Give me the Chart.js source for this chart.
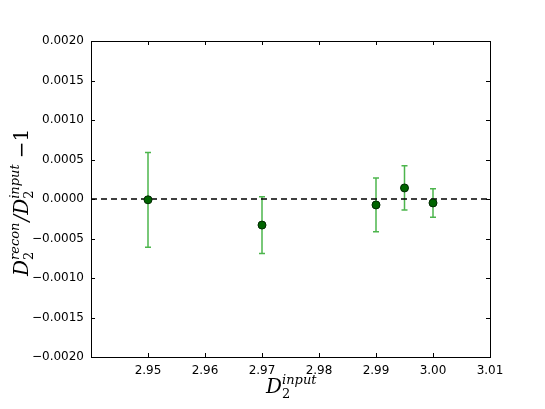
<!DOCTYPE html>
<html>
<head>
<meta charset="utf-8">
<script src="https://cdn.jsdelivr.net/npm/chart.js@4"></script>
<style>
  html, body { margin: 0; padding: 0; background: #fff; }
  #wrap { width: 545px; height: 409px; }
</style>
</head>
<body>
<div id="wrap"><canvas id="chart" width="545" height="409"></canvas></div>
<script>
// values
const xInput = [2.95, 2.97, 2.99, 2.995, 3.00];
const ratioMinusOne = [-0.00001, -0.00033, -0.000075, 0.00014, -0.00005];
const errors = [0.0006, 0.00036, 0.00034, 0.00028, 0.00018];
const xRange = [2.94, 3.01];
const yRange = [-0.002, 0.002];

const tickFont = { family: 'DejaVu Sans', size: 12 };
const fmtY = v => (v < 0 ? '\u2212' : '') + Math.abs(v).toFixed(4);

// error bars + inside tick marks + math axis labels
const extras = {
    id: 'extras',
    beforeDatasetsDraw(chart) {
        const ctx = chart.ctx;
        const xs = chart.scales.x, ys = chart.scales.y;
        ctx.save();
        ctx.strokeStyle = 'rgba(0,150,0,0.7)';
        ctx.lineWidth = 1.5;
        xInput.forEach((x, i) => {
            const px = xs.getPixelForValue(x);
            const top = ys.getPixelForValue(ratioMinusOne[i] + errors[i]);
            const bot = ys.getPixelForValue(ratioMinusOne[i] - errors[i]);
            ctx.beginPath();
            ctx.moveTo(px, top); ctx.lineTo(px, bot);
            ctx.moveTo(px - 3, top); ctx.lineTo(px + 3, top);
            ctx.moveTo(px - 3, bot); ctx.lineTo(px + 3, bot);
            ctx.stroke();
        });
        ctx.restore();
    },
    afterDraw(chart) {
        const ctx = chart.ctx;
        const a = chart.chartArea;
        const xs = chart.scales.x, ys = chart.scales.y;
        ctx.save();
        ctx.strokeStyle = '#000';
        ctx.lineWidth = 1;
        ctx.beginPath();
        xs.ticks.forEach(t => {
            const p = Math.round(xs.getPixelForValue(t.value)) + 0.5;
            ctx.moveTo(p, a.bottom); ctx.lineTo(p, a.bottom - 4);
            ctx.moveTo(p, a.top); ctx.lineTo(p, a.top + 4);
        });
        ys.ticks.forEach(t => {
            const p = Math.round(ys.getPixelForValue(t.value)) + 0.5;
            ctx.moveTo(a.left, p); ctx.lineTo(a.left + 4, p);
            ctx.moveTo(a.right, p); ctx.lineTo(a.right - 4, p);
        });
        ctx.stroke();
        ctx.strokeRect(a.left + 0.5, a.top + 0.5, a.right - a.left, a.bottom - a.top);

        // x axis label
        ctx.fillStyle = '#000';
        ctx.textBaseline = 'alphabetic';
        ctx.font = 'italic 20px "DejaVu Serif"';
        ctx.fillText('D', 266, 393);
        let w = ctx.measureText('D').width;
        ctx.font = '13px "DejaVu Serif"';
        ctx.fillText('2', 266 + w, 398);
        ctx.font = 'italic 13px "DejaVu Serif"';
        ctx.fillText('input', 266 + w, 384);

        // y axis label, rotated
        ctx.translate(28, 200);
        ctx.rotate(-Math.PI / 2);
        let x0 = -76;
        ctx.font = 'italic 20px "DejaVu Serif"';
        ctx.fillText('D', x0, 0);
        w = ctx.measureText('D').width;
        ctx.font = '13px "DejaVu Serif"';
        ctx.fillText('2', x0 + w, 5);
        ctx.font = 'italic 13px "DejaVu Serif"';
        ctx.fillText('recon', x0 + w, -9);
        x0 += w + ctx.measureText('recon').width + 1;
        ctx.font = 'italic 20px "DejaVu Serif"';
        ctx.fillText('/D', x0, 0);
        w = ctx.measureText('/D').width;
        ctx.font = '13px "DejaVu Serif"';
        ctx.fillText('2', x0 + w, 5);
        ctx.font = 'italic 13px "DejaVu Serif"';
        ctx.fillText('input', x0 + w, -9);
        x0 += w + ctx.measureText('input').width + 6;
        ctx.font = '20px "DejaVu Serif"';
        ctx.fillText('\u22121', x0, 0);
        ctx.restore();
    }
};

new Chart(document.getElementById('chart'), {
    type: 'scatter',
    data: {
        datasets: [
            {
                data: xInput.map((x, i) => ({ x: x, y: ratioMinusOne[i] })),
                backgroundColor: '#006400',
                borderColor: '#002800',
                borderWidth: 1,
                pointRadius: 4,
                order: 0
            },
            {
                type: 'line',
                data: [{ x: xRange[0], y: 0 }, { x: xRange[1], y: 0 }],
                borderColor: '#000',
                borderWidth: 1.3,
                borderDash: [6, 4],
                pointRadius: 0,
                order: 1
            }
        ]
    },
    options: {
        responsive: false,
        animation: false,
        layout: { padding: { top: 41, right: 55, left: 0, bottom: 0 } },
        plugins: { legend: { display: false }, tooltip: { enabled: false } },
        scales: {
            x: {
                type: 'linear',
                min: xRange[0], max: xRange[1],
                afterFit: s => { s.height = 52; },
                grid: { display: false, drawTicks: false },
                border: { display: false },
                ticks: {
                    stepSize: 0.01,
                    padding: 7,
                    color: '#000',
                    font: tickFont,
                    callback: v => Math.abs(v - 2.94) < 1e-6 ? '' : v.toFixed(2)
                }
            },
            y: {
                min: yRange[0], max: yRange[1],
                afterFit: s => { s.width = 91; },
                grid: { display: false, drawTicks: false },
                border: { display: false },
                ticks: {
                    stepSize: 0.0005,
                    padding: 7,
                    color: '#000',
                    font: tickFont,
                    callback: v => fmtY(v)
                }
            }
        }
    },
    plugins: [extras]
});
</script>
</body>
</html>
